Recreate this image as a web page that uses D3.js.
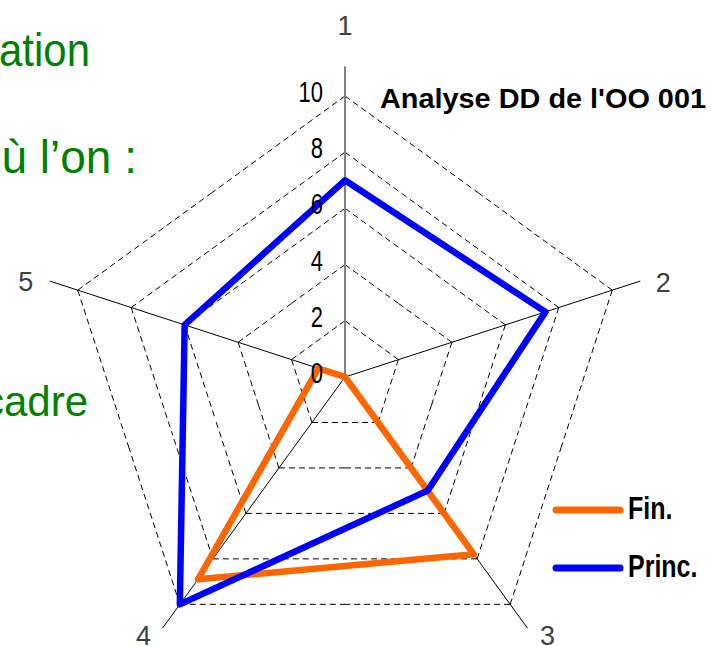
<!DOCTYPE html>
<html>
<head>
<meta charset="utf-8">
<script src="https://cdn.jsdelivr.net/npm/d3@7"></script>
<style>
	html, body { margin: 0; padding: 0; background: #fff; overflow: hidden; }
	svg { display: block; }
</style>
</head>
<body>
<div id="chart"></div>
<script>
// axis names, scale ticks and the two series
var axes = ["1", "2", "3", "4", "5"];
var ticks = [0, 2, 4, 6, 8, 10];
var seriesNames = ["Fin.", "Princ."];
var finValues = [0, 0, 7.8, 8.9, 1];
var princValues = [7, 7.5, 5, 10, 6];
var title = "Analyse DD de l'OO 001";
var sideTexts = ["ation", "ù l’on :", "cadre"];

(function () {
	var width = 711;
	var height = 646;
	var cx = 345, cy = 377;
	var colors = ["#ff6600", "#0000ff"];
	// pixel offsets of the axis names from the spoke ends
	var nameOffsets = [[0, -41], [23, 1], [20, 7], [-19, 7], [-24, 0]];

	var svg = d3.select("#chart").append("svg")
		.attr("width", width)
		.attr("height", height);

	// background slide text, cut on the left
	var green = svg.append("g").attr("class", "side")
		.attr("fill", "#008000")
		.style("font-family", "'Liberation Sans', Arial, sans-serif");
	green.append("text")
		.attr("transform", "translate(90,66) scale(1,1.12)")
		.attr("text-anchor", "end")
		.style("font-size", "42px")
		.text(sideTexts[0]);
	green.append("text")
		.attr("transform", "translate(137,173)")
		.attr("text-anchor", "end")
		.style("font-size", "46px")
		.text(sideTexts[1]);
	green.append("text")
		.attr("transform", "translate(88,416)")
		.attr("text-anchor", "end")
		.style("font-size", "42px")
		.text(sideTexts[2]);

	var r = d3.scaleLinear().domain([0, 10]).range([0, 281]);
	var angle = d3.scalePoint().domain(axes).range([0, 2 * Math.PI * 4 / 5]);

	function pt(axis, v) {
		var a = angle(axis);
		return [cx + r(v) * Math.sin(a), cy - r(v) * Math.cos(a)];
	}

	var g = svg.append("g");

	// dashed rings, one half-edge per vertex so every vertex gets a dash
	ticks.filter(function(t) { return t > 0; }).forEach(function(t) {
		axes.forEach(function(a, i) {
			var p0 = pt(a, t);
			var p1 = pt(axes[(i + 1) % axes.length], t);
			var p2 = pt(axes[(i + axes.length - 1) % axes.length], t);
			[p1, p2].forEach(function(p) {
				var mx = (p0[0] + p[0]) / 2, my = (p0[1] + p[1]) / 2;
				g.append("line")
					.attr("x1", p0[0]).attr("y1", p0[1])
					.attr("x2", mx).attr("y2", my)
					.attr("stroke", "#000")
					.attr("stroke-width", 1)
					.attr("stroke-dasharray", "6,4");
			});
		});
	});

	// spokes
	g.selectAll("line.spoke")
		.data(axes)
		.enter()
		.append("line")
		.attr("class", "spoke")
		.attr("x1", cx).attr("y1", cy)
		.attr("x2", function(d) { return pt(d, 11.05)[0]; })
		.attr("y2", function(d) { return pt(d, 11.05)[1]; })
		.attr("stroke", function(d, i) { return i == 0 ? "#808080" : "#000"; })
		.attr("stroke-width", function(d, i) { return i == 0 ? 2 : 1; });

	// axis names
	g.selectAll("text.axis")
		.data(axes)
		.enter()
		.append("text")
		.attr("class", "axis")
		.attr("x", function(d, i) { return pt(d, 11.05)[0] + nameOffsets[i][0]; })
		.attr("y", function(d, i) { return pt(d, 11.05)[1] + nameOffsets[i][1] + 10; })
		.attr("text-anchor", "middle")
		.attr("fill", "#404040")
		.style("font-family", "'Liberation Sans', Arial, sans-serif")
		.style("font-size", "27px")
		.text(function(d) { return d; });

	// series
	var line = d3.line()
		.x(function(d, i) { return pt(axes[i], d)[0]; })
		.y(function(d, i) { return pt(axes[i], d)[1]; })
		.curve(d3.curveLinearClosed);

	[finValues, princValues].forEach(function(vals, k) {
		g.append("path")
			.attr("d", line(vals))
			.attr("fill", "none")
			.attr("stroke", colors[k])
			.attr("stroke-width", 6.5)
			.attr("stroke-linejoin", "round");
	});

	// scale labels along axis 1
	g.selectAll("text.tick")
		.data(ticks)
		.enter()
		.append("text")
		.attr("class", "tick")
		.attr("transform", function(d) { return "translate(" + (cx - 22) + "," + (cy - r(d) + 6) + ") scale(1,1.3)"; })
		.attr("text-anchor", "end")
		.attr("fill", "#000")
		.style("font-family", "'Liberation Sans', Arial, sans-serif")
		.style("font-size", "22px")
		.text(function(d) { return d; });

	// title
	svg.append("text")
		.attr("x", 380)
		.attr("y", 108)
		.attr("textLength", 326)
		.attr("lengthAdjust", "spacingAndGlyphs")
		.attr("fill", "#000")
		.style("font-family", "'Liberation Sans', Arial, sans-serif")
		.style("font-weight", "bold")
		.style("font-size", "27px")
		.text(title);

	// legend
	var legend = svg.append("g")
		.attr("transform", "translate(556,510)");

	legend.selectAll("line")
		.data(seriesNames)
		.enter()
		.append("line")
		.attr("x1", 0).attr("x2", 64)
		.attr("y1", function(d, i) { return i * 58; })
		.attr("y2", function(d, i) { return i * 58; })
		.attr("stroke", function(d, i) { return colors[i]; })
		.attr("stroke-width", 7)
		.attr("stroke-linecap", "round");

	legend.selectAll("text")
		.data(seriesNames)
		.enter()
		.append("text")
		.attr("transform", function(d, i) { return "translate(72," + (i * 58 + 9) + ") scale(1,1.25)"; })
		.attr("fill", "#000")
		.style("font-family", "'Liberation Sans', Arial, sans-serif")
		.style("font-weight", "bold")
		.style("font-size", "25px")
		.text(function(d) { return d; });
})();
</script>
</body>
</html>
